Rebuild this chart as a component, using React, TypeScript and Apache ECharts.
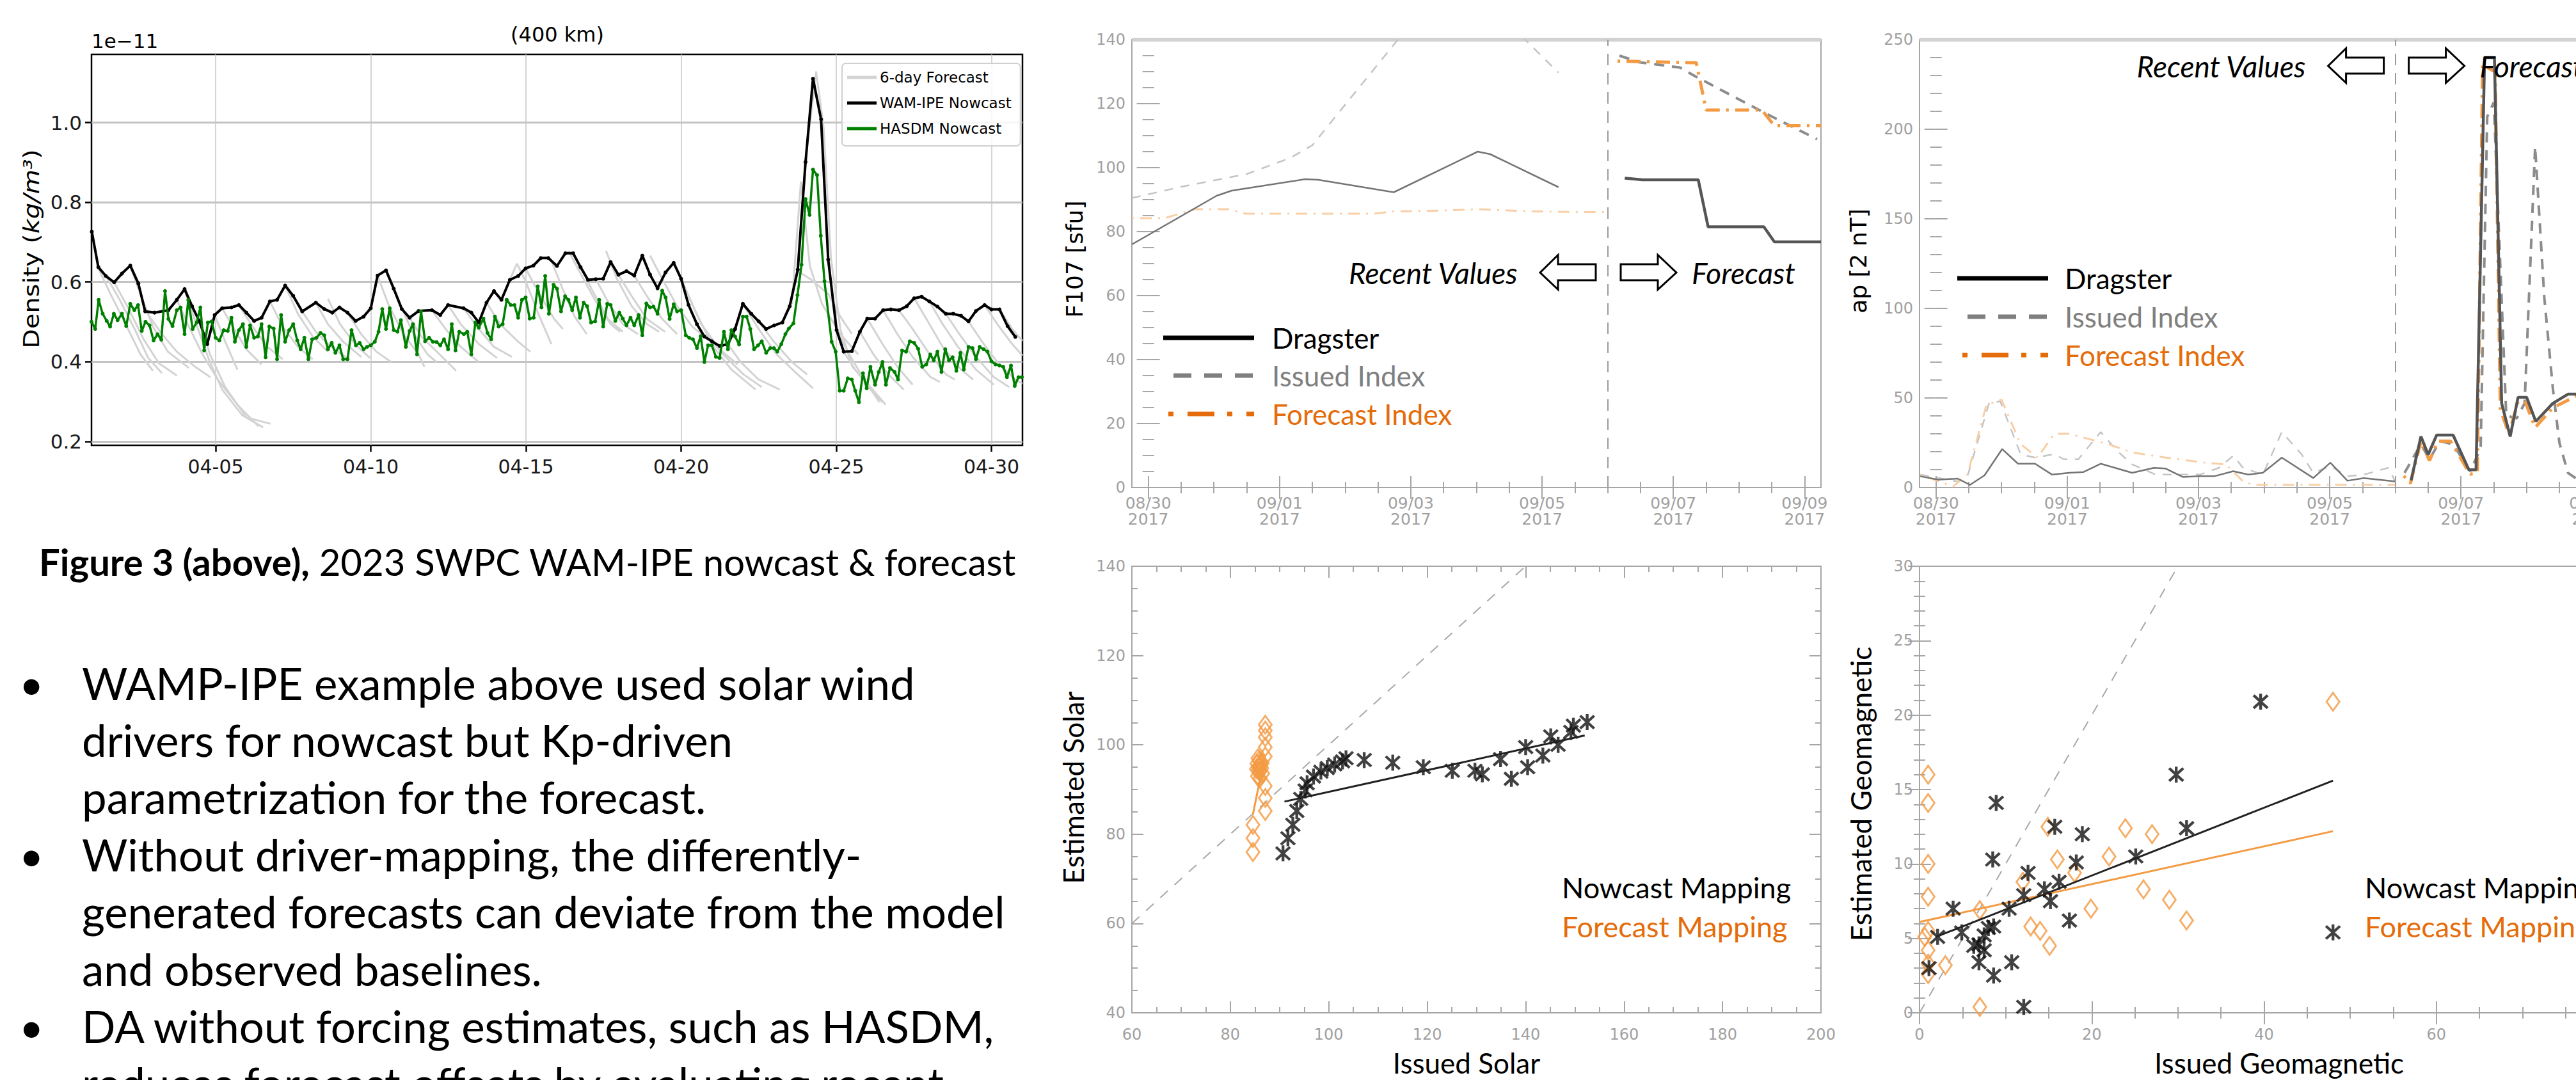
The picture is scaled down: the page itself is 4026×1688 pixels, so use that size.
import React, { useEffect, useRef } from "react";
import * as echarts from "echarts";

type P = [number, number];

// ================= Figure 3 (left): density at 400 km =================
// x = days since 2023-04-01 00 UT, y = density in 1e-11 kg/m^3
const densityTickDays = [4, 9, 14, 19, 24, 29];
const densityTickLabels = ["04-05", "04-10", "04-15", "04-20", "04-25", "04-30"];
const densityTickValues = [0.2, 0.4, 0.6, 0.8, 1.0];

const wamIpeNowcast: P[] = [
  [0.01, 0.726], [0.22, 0.637], [0.46, 0.615], [0.73, 0.599], [0.98, 0.621], [1.25, 0.641], [1.51, 0.596],
  [1.73, 0.526], [2.03, 0.523], [2.48, 0.529], [2.75, 0.555], [3.0, 0.582], [3.24, 0.539], [3.48, 0.501],
  [3.73, 0.444], [3.97, 0.517], [4.21, 0.534], [4.51, 0.536], [4.75, 0.542], [4.99, 0.523], [5.24, 0.502],
  [5.48, 0.51], [5.75, 0.551], [5.98, 0.555], [6.24, 0.591], [6.5, 0.565], [6.79, 0.526], [7.23, 0.548],
  [7.5, 0.532], [7.76, 0.523], [7.99, 0.536], [8.25, 0.523], [8.51, 0.502], [8.77, 0.513], [9.0, 0.534],
  [9.22, 0.616], [9.49, 0.629], [9.74, 0.583], [10.0, 0.532], [10.25, 0.51], [10.54, 0.527], [10.97, 0.529],
  [11.24, 0.517], [11.49, 0.542], [11.99, 0.534], [12.24, 0.523], [12.48, 0.498], [12.73, 0.548],
  [12.97, 0.577], [13.21, 0.555], [13.48, 0.605], [13.75, 0.615], [13.99, 0.634], [14.24, 0.641],
  [14.48, 0.66], [14.72, 0.66], [15.0, 0.64], [15.27, 0.672], [15.52, 0.672], [15.76, 0.637], [16.0, 0.605],
  [16.25, 0.607], [16.49, 0.608], [16.73, 0.65], [16.98, 0.618], [17.24, 0.627], [17.49, 0.616],
  [17.75, 0.666], [18.0, 0.618], [18.24, 0.584], [18.5, 0.624], [18.76, 0.648], [19.0, 0.608],
  [19.24, 0.542], [19.51, 0.494], [19.75, 0.463], [19.99, 0.451], [20.25, 0.439], [20.51, 0.444],
  [20.74, 0.482], [20.99, 0.545], [21.26, 0.52], [21.5, 0.501], [21.74, 0.482], [22.0, 0.491],
  [22.26, 0.498], [22.5, 0.539], [22.76, 0.631], [23.01, 0.901], [23.25, 1.11], [23.51, 1.008],
  [23.74, 0.656], [24.01, 0.479], [24.24, 0.425], [24.5, 0.426], [24.76, 0.475], [25.0, 0.508],
  [25.25, 0.508], [25.51, 0.529], [25.76, 0.531], [26.02, 0.529], [26.27, 0.539], [26.51, 0.559],
  [26.75, 0.563], [27.0, 0.551], [27.26, 0.538], [27.53, 0.52], [27.77, 0.52], [28.02, 0.515],
  [28.26, 0.501], [28.5, 0.527], [28.78, 0.542], [29.0, 0.531], [29.26, 0.531], [29.52, 0.489], [29.77, 0.462],
];

const hasdmNowcast: P[] = [
  [0.0, 0.5], [0.12, 0.482], [0.23, 0.555], [0.36, 0.52], [0.49, 0.502], [0.6, 0.488], [0.72, 0.52],
  [0.84, 0.504], [0.98, 0.52], [1.12, 0.489], [1.25, 0.545], [1.38, 0.529], [1.5, 0.542], [1.62, 0.477],
  [1.74, 0.5], [1.87, 0.491], [2.0, 0.453], [2.13, 0.469], [2.25, 0.455], [2.37, 0.577], [2.48, 0.507],
  [2.61, 0.489], [2.75, 0.529], [2.87, 0.536], [3.0, 0.469], [3.12, 0.555], [3.26, 0.482], [3.39, 0.498],
  [3.51, 0.536], [3.63, 0.428], [3.75, 0.498], [3.87, 0.501], [4.0, 0.46], [4.12, 0.453], [4.26, 0.479],
  [4.39, 0.477], [4.51, 0.51], [4.62, 0.45], [4.75, 0.479], [4.88, 0.494], [4.99, 0.437], [5.11, 0.491],
  [5.24, 0.46], [5.36, 0.463], [5.48, 0.494], [5.61, 0.411], [5.73, 0.488], [5.87, 0.483], [5.98, 0.406],
  [6.11, 0.517], [6.24, 0.45], [6.37, 0.479], [6.5, 0.494], [6.63, 0.453], [6.74, 0.431], [6.86, 0.46],
  [6.99, 0.406], [7.11, 0.456], [7.25, 0.46], [7.38, 0.472], [7.5, 0.466], [7.62, 0.431], [7.74, 0.447],
  [7.86, 0.422], [7.99, 0.441], [8.11, 0.406], [8.25, 0.406], [8.38, 0.479], [8.52, 0.441], [8.64, 0.447],
  [8.77, 0.431], [8.88, 0.437], [9.0, 0.441], [9.13, 0.45], [9.25, 0.475], [9.37, 0.532], [9.49, 0.482],
  [9.61, 0.534], [9.74, 0.479], [9.86, 0.475], [9.97, 0.504], [10.13, 0.437], [10.25, 0.477], [10.36, 0.494],
  [10.49, 0.418], [10.62, 0.526], [10.75, 0.451], [10.88, 0.46], [11.0, 0.45], [11.12, 0.449], [11.24, 0.441],
  [11.36, 0.456], [11.49, 0.431], [11.61, 0.494], [11.73, 0.428], [11.85, 0.475], [12.0, 0.469], [12.11, 0.475],
  [12.24, 0.418], [12.37, 0.498], [12.48, 0.485], [12.63, 0.508], [12.76, 0.472], [12.88, 0.456], [13.0, 0.513],
  [13.12, 0.488], [13.25, 0.494], [13.38, 0.555], [13.51, 0.542], [13.63, 0.542], [13.75, 0.51], [13.87, 0.555],
  [13.99, 0.561], [14.12, 0.508], [14.25, 0.51], [14.38, 0.589], [14.5, 0.536], [14.62, 0.615], [14.74, 0.52],
  [14.89, 0.593], [15.0, 0.583], [15.13, 0.526], [15.26, 0.564], [15.37, 0.555], [15.49, 0.529], [15.61, 0.561],
  [15.74, 0.51], [15.86, 0.548], [15.97, 0.539], [16.1, 0.498], [16.23, 0.501], [16.36, 0.555], [16.49, 0.488],
  [16.62, 0.545], [16.73, 0.542], [16.88, 0.502], [17.01, 0.523], [17.12, 0.508], [17.24, 0.491], [17.37, 0.51],
  [17.49, 0.491], [17.63, 0.517], [17.75, 0.466], [17.88, 0.546], [18.0, 0.536], [18.11, 0.538], [18.24, 0.52],
  [18.39, 0.578], [18.5, 0.561], [18.63, 0.507], [18.76, 0.544], [18.87, 0.526], [19.0, 0.529], [19.15, 0.466],
  [19.26, 0.46], [19.38, 0.456], [19.51, 0.434], [19.63, 0.464], [19.75, 0.399], [19.87, 0.441], [19.99, 0.441],
  [20.12, 0.412], [20.24, 0.409], [20.38, 0.475], [20.51, 0.431], [20.62, 0.479], [20.74, 0.463], [20.87, 0.443],
  [20.99, 0.513], [21.11, 0.513], [21.23, 0.482], [21.35, 0.431], [21.48, 0.441], [21.6, 0.451], [21.74, 0.422],
  [21.87, 0.434], [21.99, 0.434], [22.1, 0.425], [22.23, 0.444], [22.36, 0.469], [22.47, 0.483], [22.62, 0.496],
  [22.75, 0.567], [22.88, 0.643], [23.01, 0.808], [23.14, 0.768], [23.25, 0.882], [23.38, 0.868], [23.5, 0.716],
  [23.62, 0.602], [23.85, 0.45], [23.98, 0.425], [24.11, 0.327], [24.24, 0.327], [24.37, 0.358], [24.5, 0.355],
  [24.61, 0.327], [24.73, 0.298], [24.86, 0.371], [24.98, 0.333], [25.1, 0.387], [25.25, 0.342], [25.37, 0.374],
  [25.49, 0.399], [25.6, 0.342], [25.73, 0.384], [25.88, 0.374], [25.99, 0.355], [26.12, 0.428], [26.25, 0.425],
  [26.37, 0.451], [26.51, 0.447], [26.64, 0.432], [26.77, 0.387], [26.9, 0.393], [27.03, 0.418], [27.14, 0.403],
  [27.26, 0.425], [27.39, 0.374], [27.51, 0.431], [27.63, 0.403], [27.75, 0.411], [27.87, 0.377], [28.0, 0.422],
  [28.11, 0.38], [28.26, 0.437], [28.39, 0.434], [28.5, 0.406], [28.62, 0.437], [28.75, 0.431], [28.87, 0.425],
  [29.0, 0.401], [29.13, 0.393], [29.26, 0.39], [29.38, 0.387], [29.5, 0.361], [29.63, 0.39], [29.75, 0.339],
  [29.87, 0.361], [29.98, 0.361],
];

const sixDayForecasts: P[][] = [
  [[0.22, 0.634], [0.61, 0.57], [1.1, 0.494], [1.58, 0.418], [1.98, 0.377]],
  [[0.47, 0.615], [0.91, 0.555], [1.39, 0.482], [1.83, 0.409], [2.27, 0.371]],
  [[0.73, 0.599], [1.2, 0.532], [1.68, 0.456], [2.17, 0.396], [2.75, 0.365]],
  [[1.25, 0.64], [1.54, 0.577], [1.98, 0.488], [2.46, 0.425], [3.14, 0.384]],
  [[1.78, 0.523], [2.27, 0.469], [2.75, 0.425], [3.34, 0.387], [3.83, 0.361]],
  [[2.75, 0.555], [3.1, 0.494], [3.58, 0.418], [4.07, 0.355], [4.7, 0.292], [5.38, 0.238]],
  [[3.0, 0.58], [3.29, 0.513], [3.78, 0.406], [4.21, 0.33], [4.85, 0.266], [5.53, 0.235]],
  [[3.48, 0.501], [3.82, 0.418], [4.31, 0.336], [4.99, 0.26], [5.77, 0.244]],
  [[3.97, 0.517], [4.31, 0.45], [4.7, 0.38]],
  [[4.21, 0.534], [4.6, 0.482], [4.99, 0.431], [5.48, 0.393]],
  [[4.75, 0.542], [5.19, 0.488], [5.67, 0.437], [6.16, 0.406]],
  [[5.75, 0.551], [6.16, 0.488], [6.65, 0.437], [7.13, 0.406]],
  [[6.24, 0.591], [6.65, 0.52], [7.13, 0.463], [7.62, 0.425]],
  [[6.79, 0.526], [7.23, 0.475], [7.72, 0.437], [8.3, 0.406]],
  [[7.23, 0.548], [7.62, 0.494], [8.11, 0.45], [8.69, 0.412]],
  [[7.62, 0.558], [8.01, 0.494], [8.49, 0.444], [8.98, 0.409]],
  [[8.25, 0.523], [8.69, 0.469], [9.18, 0.425], [9.66, 0.399]],
  [[9.22, 0.616], [9.56, 0.545], [10.05, 0.469], [10.54, 0.418], [10.73, 0.387]],
  [[9.49, 0.629], [9.86, 0.558], [10.34, 0.475], [10.83, 0.418], [11.12, 0.399]],
  [[10.25, 0.51], [10.63, 0.463], [11.22, 0.418], [11.75, 0.377]],
  [[10.97, 0.529], [11.41, 0.482], [11.9, 0.437], [12.48, 0.399]],
  [[11.49, 0.542], [11.9, 0.494], [12.48, 0.444], [13.07, 0.409]],
  [[11.99, 0.534], [12.48, 0.482], [12.97, 0.437], [13.55, 0.412]],
  [[12.73, 0.548], [13.17, 0.494], [13.75, 0.45], [14.14, 0.425]],
  [[13.48, 0.605], [13.71, 0.646], [14.0, 0.6], [14.4, 0.52], [14.82, 0.444]],
  [[13.99, 0.634], [14.43, 0.57], [14.91, 0.507], [15.19, 0.482]],
  [[14.79, 0.659], [15.18, 0.583], [15.57, 0.513], [15.96, 0.469]],
  [[15.37, 0.678], [15.76, 0.621], [16.25, 0.551], [16.73, 0.494], [17.03, 0.475]],
  [[15.76, 0.637], [16.15, 0.577], [16.64, 0.507], [17.12, 0.475]],
  [[16.25, 0.607], [16.64, 0.551], [17.12, 0.494], [17.61, 0.469]],
  [[16.58, 0.678], [16.93, 0.608], [17.41, 0.539], [17.9, 0.494], [18.29, 0.475]],
  [[16.98, 0.618], [17.41, 0.564], [17.9, 0.507], [18.48, 0.475]],
  [[17.49, 0.616], [17.9, 0.564], [18.39, 0.507], [18.87, 0.469]],
  [[18.0, 0.666], [18.39, 0.608], [18.87, 0.539], [19.36, 0.488], [19.85, 0.456]],
  [[18.76, 0.648], [19.17, 0.577], [19.65, 0.494], [20.24, 0.431], [20.82, 0.393]],
  [[19.0, 0.608], [19.46, 0.526], [20.04, 0.437], [20.62, 0.38], [21.4, 0.33]],
  [[19.99, 0.451], [20.43, 0.412], [21.01, 0.368], [21.6, 0.336]],
  [[20.51, 0.444], [20.92, 0.399], [21.5, 0.355], [22.18, 0.33]],
  [[20.99, 0.545], [21.5, 0.482], [22.08, 0.418], [22.67, 0.374], [23.25, 0.333]],
  [[21.5, 0.501], [21.99, 0.45], [22.57, 0.399], [23.06, 0.368]],
  [[22.76, 0.627], [23.15, 0.608], [23.74, 0.57], [24.13, 0.513], [24.5, 0.47]],
  [[22.57, 0.545], [22.86, 0.852], [23.15, 0.64], [23.54, 0.545], [24.13, 0.469], [24.71, 0.418]],
  [[23.01, 0.906], [23.35, 1.128], [23.59, 0.989], [23.83, 0.659], [24.13, 0.482], [24.52, 0.387], [25.1, 0.336], [25.59, 0.292]],
  [[24.01, 0.479], [24.42, 0.418], [24.9, 0.355], [25.39, 0.298]],
  [[24.24, 0.425], [24.61, 0.38], [25.1, 0.33], [25.49, 0.298]],
  [[24.76, 0.475], [25.2, 0.418], [25.68, 0.368], [26.17, 0.33]],
  [[25.0, 0.508], [25.49, 0.444], [25.97, 0.387], [26.46, 0.342]],
  [[25.51, 0.529], [25.97, 0.469], [26.46, 0.412], [27.04, 0.361], [27.34, 0.349]],
  [[26.02, 0.529], [26.46, 0.482], [26.95, 0.425], [27.53, 0.368], [27.82, 0.355]],
  [[26.51, 0.559], [26.95, 0.501], [27.43, 0.437], [28.02, 0.38], [28.41, 0.355]],
  [[27.0, 0.551], [27.43, 0.494], [27.92, 0.437], [28.5, 0.38], [29.08, 0.342]],
  [[27.53, 0.52], [28.02, 0.463], [28.5, 0.412], [29.08, 0.361], [29.57, 0.336]],
  [[28.26, 0.501], [28.7, 0.45], [29.19, 0.399], [29.77, 0.355], [30.0, 0.345]],
  [[28.78, 0.542], [29.19, 0.494], [29.67, 0.444], [30.0, 0.415]],
  [[29.26, 0.531], [29.67, 0.482], [30.0, 0.452]],
];

// ================= Driver panels (x = days since 2017-08-30 00 UT) =================
const dateTickDays = [0, 2, 4, 6, 8, 10];
const dateTickLabels = ["08/30\n2017", "09/01\n2017", "09/03\n2017", "09/05\n2017", "09/07\n2017", "09/09\n2017"];
const dateMinorDays = [0.5, 1, 1.5, 2.5, 3, 3.5, 4.5, 5, 5.5, 6.5, 7, 7.5, 8.5, 9, 9.5];
const forecastStartDay = 7;

// F10.7 panel
const f107Ticks = [0, 20, 40, 60, 80, 100, 120, 140];
const f107Minor = [5, 10, 15, 25, 30, 35, 45, 50, 55, 65, 70, 75, 85, 90, 95, 105, 110, 115, 125, 130, 135];
const f107DragsterRecent: P[] = [[-0.25, 76], [1.04, 91.2], [1.27, 92.8], [2.39, 96.4], [2.59, 96.2], [3.74, 92.3], [5.02, 105], [5.21, 104.2], [6.25, 93.9]];
const f107DragsterForecast: P[] = [[7.26, 96.7], [7.53, 96.2], [8.38, 96.2], [8.53, 81.5], [9.38, 81.5], [9.54, 76.8], [10.25, 76.8]];
const f107IssuedRecent: P[] = [[-0.25, 90.5], [0.5, 94], [1.5, 98], [2.16, 103], [2.5, 107], [4.0, 145], [5.0, 155], [6.25, 129.7]];
const f107IssuedForecast: P[] = [[7.18, 135], [7.49, 132.9], [8.1, 131.3], [8.33, 128.6], [9.41, 116.9], [10.19, 108.9]];
const f107ForecastIdxRecent: P[] = [[-0.25, 84.2], [0.25, 84.2], [0.71, 87], [1.22, 87], [1.49, 85.6], [3.42, 85.6], [3.73, 86.3], [4.5, 86.6], [5.04, 87], [5.73, 86.4], [6.5, 86.1], [7.0, 86.1]];
const f107ForecastIdxForecast: P[] = [[7.15, 133.3], [8.35, 132.8], [8.5, 118], [9.35, 118], [9.54, 113.1], [10.25, 113.1]];

// ap panel
const apTicks = [0, 50, 100, 150, 200, 250];
const apMinor = [10, 20, 30, 40, 60, 70, 80, 90, 110, 120, 130, 140, 160, 170, 180, 190, 210, 220, 230, 240];
const apDragsterRecent: P[] = [
  [-0.24, 6.3], [0.04, 4.4], [0.33, 5], [0.52, 1.5], [0.74, 6.8], [1.01, 21.5], [1.25, 13.3], [1.51, 13.3],
  [1.77, 7.2], [2.03, 8.2], [2.25, 8.7], [2.51, 13.3], [2.73, 11], [2.99, 8.2], [3.32, 11], [3.5, 10.6],
  [3.76, 5.9], [4.02, 6.3], [4.24, 6.3], [4.53, 9.1], [4.76, 7.2], [4.98, 8.2], [5.27, 16.7], [5.75, 5.3],
  [6.01, 13.9], [6.27, 3.8], [6.52, 5.3], [7.0, 3.4],
];
const apDragsterForecast: P[] = [
  [7.24, 4.0], [7.39, 28.5], [7.5, 18.4], [7.63, 29.3], [7.88, 29.3], [8.12, 9.9], [8.23, 9.9], [8.36, 240],
  [8.51, 240], [8.62, 47], [8.75, 28.5], [8.87, 50.4], [9.0, 50.4], [9.14, 36.9], [9.4, 47], [9.63, 52.1], [9.76, 52.1],
];
const apIssuedRecent: P[] = [
  [-0.24, 7.2], [0.33, 3.4], [0.48, 6.3], [0.81, 47.1], [0.98, 48.1], [1.29, 18.6], [1.51, 16.7], [1.8, 18.6],
  [1.95, 15.8], [2.17, 15.8], [2.51, 31], [2.76, 20.5], [2.99, 12.9], [3.35, 7.2], [4.02, 7.2], [4.31, 11],
  [4.53, 17.7], [4.68, 11], [4.98, 7.2], [5.27, 31], [5.57, 18.6], [5.75, 8.2], [6.01, 12], [6.27, 6.3],
  [6.52, 7.2], [6.89, 11], [7.0, 3.4],
];
const apIssuedForecast: P[] = [
  [7.14, 8.2], [7.39, 24.2], [7.52, 15.8], [7.68, 25.9], [7.88, 24.2], [8.14, 9.1], [8.3, 21.7], [8.4, 207],
  [8.5, 215], [8.69, 40.2], [8.85, 38.6], [8.97, 47], [9.13, 190.3], [9.27, 106], [9.4, 55.4], [9.5, 25],
  [9.63, 8.2], [9.76, 4.9],
];
const apForecastIdxRecent: P[] = [
  [-0.24, 7.2], [0.26, 0.6], [0.48, 7.2], [0.77, 46.2], [1.0, 49], [1.29, 24.3], [1.55, 16.7], [1.8, 30],
  [2.03, 30], [2.62, 24.3], [2.99, 19.6], [3.5, 16.7], [4.09, 13.9], [4.42, 12.9], [4.68, 3.4], [4.83, 1.5], [7.0, 1.5],
];
const apForecastIdxForecast: P[] = [
  [7.13, 6.5], [7.23, 2.3], [7.39, 25.9], [7.52, 15], [7.65, 25.9], [7.84, 25.9], [8.14, 7.4], [8.25, 8.2],
  [8.33, 236], [8.52, 232], [8.6, 43.6], [8.73, 30.1], [8.87, 47.9], [8.98, 47.9], [9.13, 33.5], [9.4, 44.5], [9.76, 51.2],
];

// Solar mapping panel
const solarXTicks = [60, 80, 100, 120, 140, 160, 180, 200];
const solarXMinor = [65, 70, 75, 85, 90, 95, 105, 110, 115, 125, 130, 135, 145, 150, 155, 165, 170, 175, 185, 190, 195];
const solarYTicks = [40, 60, 80, 100, 120, 140];
const solarYMinor = [45, 50, 55, 65, 70, 75, 85, 90, 95, 105, 110, 115, 125, 130, 135];
const solarIdentity: P[] = [[60, 60], [140, 140]];
const solarNowcastPoints: P[] = [
  [90.7, 75.7], [91.7, 79.1], [92.7, 82.1], [93.5, 85.2], [94.3, 87.9], [95.2, 89.8], [95.6, 91.4], [96.9, 92.9],
  [98.4, 94], [99.7, 94.8], [101.2, 95.6], [102.8, 96.3], [103.5, 97], [107.2, 96.6], [113, 96], [119.2, 95],
  [125.1, 94.2], [129.7, 94.2], [131.2, 93.4], [134.9, 96.8], [137.1, 92.4], [140, 99.5], [140.4, 95],
  [143.5, 97.6], [145.1, 101.9], [146.6, 100], [149.2, 102.9], [149.7, 104.3], [152.5, 105.1],
];
const solarNowcastFit: P[] = [[91, 87.3], [152, 102.1]];
const solarForecastPoints: P[] = [
  [84.6, 76], [84.6, 79.1], [84.6, 82.1], [87.1, 85.2], [87.1, 88.1], [87.1, 90.8], [85.5, 93], [86, 94],
  [85.8, 95], [86.2, 96], [85.6, 97], [86, 92.5], [86.4, 94.8], [85.4, 95.8], [86.6, 93.6], [85.9, 96.5],
  [85.7, 94.3], [86.1, 95.4], [85.3, 94.6], [86.5, 95.9],
  [87.1, 97.4], [87.1, 99.5], [87.1, 101.7], [87.1, 103.2], [87.1, 104.5],
];
const solarForecastFit: P[] = [[84.6, 84.5], [87.0, 97.5]];

// Geomagnetic mapping panel
const geoXTicks = [0, 20, 40, 60, 80];
const geoXMinor = [5, 10, 15, 25, 30, 35, 45, 50, 55, 65, 70, 75];
const geoYTicks = [0, 5, 10, 15, 20, 25, 30];
const geoYMinor = [1, 2, 3, 4, 6, 7, 8, 9, 11, 12, 13, 14, 16, 17, 18, 19, 21, 22, 23, 24, 26, 27, 28, 29];
const geoIdentity: P[] = [[0, 0], [30, 30]];
const geoNowcastPoints: P[] = [
  [39.6, 20.9], [29.8, 16], [8.9, 14.1], [15.7, 12.5], [18.9, 12], [31, 12.4], [8.5, 10.3], [18.2, 10.1],
  [25.1, 10.5], [12.6, 9.4], [16.2, 8.8], [14.5, 8.3], [12.1, 7.9], [15.2, 7.5], [10.4, 7], [3.9, 7],
  [17.4, 6.2], [4.9, 5.4], [2.1, 5.1], [8.6, 5.8], [7.5, 5.2], [6.9, 4.6], [7.5, 4.2], [6.3, 4.5],
  [6.9, 3.4], [10.7, 3.4], [8.6, 2.5], [1.1, 3], [12.1, 0.4], [48, 5.4], [8, 5.7],
];
const geoNowcastFit: P[] = [[1.9, 5.1], [48, 15.6]];
const geoForecastPoints: P[] = [
  [48, 20.9], [1, 16], [1, 14.1], [1, 10], [1, 7.8], [1, 5.5], [0.6, 5.1], [1, 4.2], [1, 3.3], [1, 2.6],
  [3, 3.2], [7, 0.4], [7, 6.9], [12, 8.8], [12.9, 5.8], [14, 5.5], [15.1, 4.5], [14.9, 12.5], [16, 10.3],
  [18, 9.4], [19.9, 7], [22, 10.5], [23.9, 12.4], [27, 12], [26, 8.3], [29, 7.6], [31, 6.2],
];
const geoForecastFit: P[] = [[0, 6.1], [48, 12.2]];

// ================= Slide text =================
const captionBold = "Figure 3 (above),";
const captionRest = " 2023 SWPC WAM-IPE nowcast & forecast";
const bulletLines = [
  { bullet: true, text: "WAMP-IPE example above used solar wind" },
  { bullet: false, text: "drivers for nowcast but Kp-driven" },
  { bullet: false, text: "parametrization for the forecast." },
  { bullet: true, text: "Without driver-mapping, the differently-" },
  { bullet: false, text: "generated forecasts can deviate from the model" },
  { bullet: false, text: "and observed baselines." },
  { bullet: true, text: "DA without forcing estimates, such as HASDM," },
  { bullet: false, text: "reduces forecast offsets by evaluating recent" },
];

// ================= styling constants =================
const MPL = '"DejaVu Sans", Verdana, sans-serif';
const SLIDE = 'Lato, "Open Sans", "Noto Sans", sans-serif';
const IDL_FONT = '"DejaVu Sans", sans-serif';
const IDL_GRAY = "#A6A6A6";
const IDL_TEXT = "#A0A0A0";
const ORANGE_TEXT = "#E46C0A";
const ORANGE = "#F39A42";
const ORANGE_LIGHT = "#F8CFA6";
const ASTERISK =
  "path://M42,0L58,0L58,100L42,100Z M15.66,4.34L95.66,84.34L84.34,95.66L4.34,15.66Z M95.66,15.66L15.66,95.66L4.34,84.34L84.34,4.34Z";

function buildOption() {
  const gridBase = { show: true, outerBoundsMode: "none", containLabel: false };
  const grids: any[] = [
    { ...gridBase, left: 143, top: 85, width: 1455, height: 611, borderColor: "#000", borderWidth: 2.5, backgroundColor: "transparent" },
    { ...gridBase, left: 1769, top: 62, width: 1077, height: 700, borderColor: IDL_GRAY, borderWidth: 2 },
    { ...gridBase, left: 3000, top: 62, width: 1077, height: 700, borderColor: IDL_GRAY, borderWidth: 2 },
    { ...gridBase, left: 1769, top: 885, width: 1077, height: 698, borderColor: IDL_GRAY, borderWidth: 2 },
    { ...gridBase, left: 3000, top: 885, width: 1077, height: 698, borderColor: IDL_GRAY, borderWidth: 2 },
  ];

  const xAxes: any[] = [];
  const yAxes: any[] = [];

  // left density chart axes
  xAxes.push({
    type: "value", gridIndex: 0, min: 0, max: 30, position: "bottom",
    axisLine: { show: false },
    axisTick: { show: true, inside: false, length: 10, customValues: densityTickDays, lineStyle: { color: "#000", width: 2.5 } },
    axisLabel: {
      show: true, customValues: densityTickDays, margin: 18, fontSize: 30, fontFamily: MPL, color: "#1a1a1a",
      formatter: (v: number) => densityTickLabels[densityTickDays.indexOf(v)] ?? "",
    },
    splitLine: { show: true, lineStyle: { color: "#C6C6C6", width: 1.5 } },
  });
  yAxes.push({
    type: "value", gridIndex: 0, min: 0.19, max: 1.171, position: "left",
    axisLine: { show: false },
    axisTick: { show: true, inside: false, length: 10, customValues: densityTickValues, lineStyle: { color: "#000", width: 2.5 } },
    axisLabel: {
      show: true, customValues: densityTickValues, margin: 15, fontSize: 31, fontFamily: MPL, color: "#1a1a1a",
      formatter: (v: number) => v.toFixed(1),
    },
    splitLine: { show: true, lineStyle: { color: "#C2C2C2", width: 3 } },
  });

  const tickStyle = { color: IDL_GRAY, width: 2 };
  function addIdl(list: any[], grid: number, pos: [string, string], min: number, max: number, majors: number[], minors: number[], label: any) {
    const idx = list.length;
    list.push({
      type: "value", gridIndex: grid, position: pos[0], min, max,
      axisLine: { show: false },
      axisTick: { show: true, inside: true, length: 18, customValues: majors, lineStyle: tickStyle },
      axisLabel: { show: true, customValues: majors, color: IDL_TEXT, fontFamily: IDL_FONT, ...label },
      splitLine: { show: false },
    });
    list.push({
      type: "value", gridIndex: grid, position: pos[0], min, max,
      axisLine: { show: false },
      axisTick: { show: true, inside: true, length: 9, customValues: minors, lineStyle: tickStyle },
      axisLabel: { show: false }, splitLine: { show: false },
    });
    list.push({
      type: "value", gridIndex: grid, position: pos[1], min, max,
      axisLine: { show: false },
      axisTick: { show: true, inside: true, length: 18, customValues: majors, lineStyle: tickStyle },
      axisLabel: { show: false }, splitLine: { show: false },
    });
    list.push({
      type: "value", gridIndex: grid, position: pos[1], min, max,
      axisLine: { show: false },
      axisTick: { show: true, inside: true, length: 9, customValues: minors, lineStyle: tickStyle },
      axisLabel: { show: false }, splitLine: { show: false },
    });
    return idx;
  }
  const dateLabel = {
    fontSize: 25, lineHeight: 25, margin: 12,
    formatter: (v: number) => dateTickLabels[dateTickDays.indexOf(v)] ?? "",
  };
  const numLabel = (m: number) => ({ fontSize: 24, margin: m, formatter: (v: number) => String(v) });

  const axA = addIdl(xAxes, 1, ["bottom", "top"], -0.25, 10.25, dateTickDays, dateMinorDays, dateLabel);
  const ayA = addIdl(yAxes, 1, ["left", "right"], 0, 140, f107Ticks, f107Minor, numLabel(10));
  const axB = addIdl(xAxes, 2, ["bottom", "top"], -0.25, 10.25, dateTickDays, dateMinorDays, dateLabel);
  const ayB = addIdl(yAxes, 2, ["left", "right"], 0, 250, apTicks, apMinor, numLabel(10));
  const axC = addIdl(xAxes, 3, ["bottom", "top"], 60, 200, solarXTicks, solarXMinor, numLabel(22));
  const ayC = addIdl(yAxes, 3, ["left", "right"], 40, 140, solarYTicks, solarYMinor, numLabel(10));
  const axD = addIdl(xAxes, 4, ["bottom", "top"], 0, 80, geoXTicks, geoXMinor, numLabel(22));
  const ayD = addIdl(yAxes, 4, ["left", "right"], 0, 30, geoYTicks, geoYMinor, numLabel(10));

  const series: any[] = [];
  // ---- density chart
  sixDayForecasts.forEach((run) => {
    series.push({
      type: "line", name: "6-day Forecast", xAxisIndex: 0, yAxisIndex: 0, data: run, showSymbol: false,
      lineStyle: { color: "#D3D3D3", width: 3 }, itemStyle: { color: "#D3D3D3" }, z: 2, silent: true,
    });
  });
  series.push({
    type: "line", name: "WAM-IPE Nowcast", xAxisIndex: 0, yAxisIndex: 0, data: wamIpeNowcast,
    symbol: "circle", symbolSize: 6, showSymbol: true,
    lineStyle: { color: "#000", width: 4 }, itemStyle: { color: "#000" }, z: 3, silent: true,
  });
  series.push({
    type: "line", name: "HASDM Nowcast", xAxisIndex: 0, yAxisIndex: 0, data: hasdmNowcast,
    symbol: "circle", symbolSize: 6, showSymbol: true,
    lineStyle: { color: "#008000", width: 3.5 }, itemStyle: { color: "#008000" }, z: 4, silent: true,
  });

  // ---- driver panels
  const driverSeries = (xi: number, yi: number, d: any) => {
    const mk = (name: string, data: P[], color: string, width: number, type: any, extra: any = {}) => ({
      type: "line", name, xAxisIndex: xi, yAxisIndex: yi, data, showSymbol: false, silent: true,
      lineStyle: { color, width, type }, itemStyle: { color }, ...extra,
    });
    series.push(mk("Issued Index recent", d.issuedRecent, "#C4C4C4", 2.5, [14, 12]));
    series.push(mk("Forecast Index recent", d.fiRecent, ORANGE_LIGHT, 3, [3, 10, 18, 10]));
    series.push(mk("Dragster recent", d.dragRecent, "#747474", 2.5, "solid", {
      markLine: {
        silent: true, symbol: ["none", "none"], label: { show: false },
        lineStyle: { color: "#9A9A9A", type: [18, 12], width: 2 },
        data: [{ xAxis: forecastStartDay }],
      },
    }));
    series.push(mk("Issued Index forecast", d.issuedForecast, "#8C8C8C", 4, [16, 12]));
    series.push(mk("Forecast Index forecast", d.fiForecast, ORANGE, 5, [4, 10, 22, 10]));
    series.push(mk("Dragster forecast", d.dragForecast, "#555555", 4.5, "solid"));
  };
  driverSeries(axA, ayA, {
    issuedRecent: f107IssuedRecent, fiRecent: f107ForecastIdxRecent, dragRecent: f107DragsterRecent,
    issuedForecast: f107IssuedForecast, fiForecast: f107ForecastIdxForecast, dragForecast: f107DragsterForecast,
  });
  driverSeries(axB, ayB, {
    issuedRecent: apIssuedRecent, fiRecent: apForecastIdxRecent, dragRecent: apDragsterRecent,
    issuedForecast: apIssuedForecast, fiForecast: apForecastIdxForecast, dragForecast: apDragsterForecast,
  });

  // ---- mapping panels
  const mappingSeries = (xi: number, yi: number, identity: P[], nowPts: P[], nowFit: P[], fcPts: P[], fcFit: P[]) => {
    series.push({
      type: "line", name: "identity", xAxisIndex: xi, yAxisIndex: yi, data: identity, showSymbol: false, silent: true,
      lineStyle: { color: "#A8A8A8", width: 2, type: [16, 14] },
    });
    series.push({
      type: "scatter", name: "Forecast Mapping", xAxisIndex: xi, yAxisIndex: yi, data: fcPts, silent: true,
      symbol: "diamond", symbolSize: [20, 28],
      itemStyle: { color: "rgba(255,255,255,0)", borderColor: ORANGE, borderWidth: 3 }, z: 3,
    });
    series.push({
      type: "line", name: "Forecast fit", xAxisIndex: xi, yAxisIndex: yi, data: fcFit, showSymbol: false, silent: true,
      lineStyle: { color: ORANGE, width: 3 }, z: 4,
    });
    series.push({
      type: "scatter", name: "Nowcast Mapping", xAxisIndex: xi, yAxisIndex: yi, data: nowPts, silent: true,
      symbol: ASTERISK, symbolSize: 25, itemStyle: { color: "#111" }, z: 5,
    });
    series.push({
      type: "line", name: "Nowcast fit", xAxisIndex: xi, yAxisIndex: yi, data: nowFit, showSymbol: false, silent: true,
      lineStyle: { color: "#222", width: 3 }, z: 6,
    });
  };
  mappingSeries(axC, ayC, solarIdentity, solarNowcastPoints, solarNowcastFit, solarForecastPoints, solarForecastFit);
  mappingSeries(axD, ayD, geoIdentity, geoNowcastPoints, geoNowcastFit, geoForecastPoints, geoForecastFit);

  // ---- graphic overlay
  const g: any[] = [];
  const text = (x: number, y: number, t: string, s: any, extra: any = {}) =>
    g.push({ type: "text", x, y, z: 100, silent: true, ...extra, style: { text: t, fill: "#000", align: "left", verticalAlign: "middle", ...s } });

  // heavier light-gray top frame of the two driver panels
  g.push({ type: "line", z: 1, silent: true, shape: { x1: 1769, y1: 62, x2: 2846, y2: 62 }, style: { stroke: "#D2D2D2", lineWidth: 6 } });
  g.push({ type: "line", z: 1, silent: true, shape: { x1: 3000, y1: 62, x2: 4026, y2: 62 }, style: { stroke: "#D2D2D2", lineWidth: 6 } });

  // density chart texts
  text(871, 54, "(400 km)", { fontFamily: MPL, fontSize: 32, align: "center" });
  text(143, 64, "1e\u221211", { fontFamily: MPL, fontSize: 31 });
  g.push({
    type: "text", x: 50, y: 389, rotation: Math.PI / 2, scaleX: 1.17, z: 100, silent: true,
    style: {
      text: "{n|Density (}{i|kg/m³}{n|)}", align: "center", verticalAlign: "middle", fill: "#000",
      rich: {
        n: { fontFamily: MPL, fontSize: 34, fill: "#000" },
        i: { fontFamily: MPL, fontSize: 34, fontStyle: "italic", fill: "#000" },
      },
    },
  });

  // caption and bullets
  g.push({
    type: "text", x: 61, y: 877, z: 100, silent: true,
    style: {
      text: "{b|" + captionBold + "}{r|" + captionRest + "}", align: "left", verticalAlign: "middle",
      rich: {
        b: { fontFamily: SLIDE, fontSize: 58, fontWeight: "bold", fill: "#000" },
        r: { fontFamily: SLIDE, fontSize: 58, fill: "#000" },
      },
    },
  });
  bulletLines.forEach((ln, i) => {
    const y = 1067 + i * 89.4;
    if (ln.bullet) text(30, y, "\u2022", { fontFamily: SLIDE, fontSize: 66 });
    text(128, y, ln.text, { fontFamily: SLIDE, fontSize: 69 });
  });

  // driver panels: annotations
  const leftArrow = (tx: number, cy: number) => [[tx, cy], [tx + 28, cy - 27.5], [tx + 28, cy - 13], [tx + 87, cy - 13], [tx + 87, cy + 12], [tx + 28, cy + 12], [tx + 28, cy + 26.5]];
  const rightArrow = (sx: number, cy: number) => [[sx, cy - 13], [sx + 58, cy - 13], [sx + 58, cy - 27.5], [sx + 87, cy], [sx + 58, cy + 26.5], [sx + 58, cy + 12], [sx, cy + 12]];
  const annot = (dx: number, cy: number) => {
    text(2108 + dx, cy, "Recent Values", { fontFamily: SLIDE, fontSize: 46, fontStyle: "italic" });
    text(2644 + dx, cy, "Forecast", { fontFamily: SLIDE, fontSize: 46, fontStyle: "italic" });
    g.push({ type: "polygon", z: 100, silent: true, shape: { points: leftArrow(2407 + dx, cy) }, style: { fill: "#fff", stroke: "#000", lineWidth: 3 } });
    g.push({ type: "polygon", z: 100, silent: true, shape: { points: rightArrow(2533 + dx, cy) }, style: { fill: "#fff", stroke: "#000", lineWidth: 3 } });
  };
  annot(0, 426);
  annot(1231.6, 103);

  const legendBlock = (lx0: number, lx1: number, tx: number, rows: number[]) => {
    g.push({ type: "line", z: 100, silent: true, shape: { x1: lx0, y1: rows[0], x2: lx1, y2: rows[0] }, style: { stroke: "#000", lineWidth: 7 } });
    g.push({ type: "line", z: 100, silent: true, shape: { x1: lx0 + 16, y1: rows[1], x2: lx1, y2: rows[1] }, style: { stroke: "#7F7F7F", lineWidth: 7, lineDash: [28, 20] } });
    g.push({ type: "line", z: 100, silent: true, shape: { x1: lx0 + 8, y1: rows[2], x2: lx1, y2: rows[2] }, style: { stroke: ORANGE_TEXT, lineWidth: 7, lineDash: [8, 22, 42, 20] } });
    text(tx, rows[0], "Dragster", { fontFamily: SLIDE, fontSize: 44, fill: "#000" });
    text(tx, rows[1], "Issued Index", { fontFamily: SLIDE, fontSize: 44, fill: "#7F7F7F" });
    text(tx, rows[2], "Forecast Index", { fontFamily: SLIDE, fontSize: 44, fill: ORANGE_TEXT });
  };
  legendBlock(1818, 1960, 1988, [528, 587, 647]);
  legendBlock(3059, 3201, 3227, [435, 495, 555]);

  // axis titles of driver/mapping panels
  const vtitle = (x: number, y: number, t: string, font: string, size: number) =>
    g.push({ type: "text", x, y, rotation: Math.PI / 2, z: 100, silent: true, style: { text: t, fontFamily: font, fontSize: size, fill: "#000", align: "center", verticalAlign: "middle" } });
  vtitle(1679, 405, "F107 [sfu]", MPL, 36);
  vtitle(2904, 408, "ap [2 nT]", MPL, 36);
  vtitle(1677, 1231, "Estimated Solar", SLIDE, 44);
  vtitle(2908, 1241, "Estimated Geomagnetic", SLIDE, 44);
  text(2292, 1661, "Issued Solar", { fontFamily: SLIDE, fontSize: 44, align: "center" });
  text(3562, 1661, "Issued Geomagnetic", { fontFamily: SLIDE, fontSize: 44, align: "center" });
  text(2441, 1387, "Nowcast Mapping", { fontFamily: SLIDE, fontSize: 45, fill: "#000" });
  text(2441, 1448, "Forecast Mapping", { fontFamily: SLIDE, fontSize: 45, fill: ORANGE_TEXT });
  text(3696, 1387, "Nowcast Mapping", { fontFamily: SLIDE, fontSize: 45, fill: "#000" });
  text(3696, 1448, "Forecast Mapping", { fontFamily: SLIDE, fontSize: 45, fill: ORANGE_TEXT });

  return {
    animation: false,
    backgroundColor: "#fff",
    grid: grids,
    xAxis: xAxes,
    yAxis: yAxes,
    legend: {
      data: ["6-day Forecast", "WAM-IPE Nowcast", "HASDM Nowcast"],
      orient: "vertical", left: 1316, top: 99, selectedMode: false,
      icon: "rect", itemWidth: 46, itemHeight: 5, itemGap: 10,
      padding: [7, 14, 12, 8],
      textStyle: { fontFamily: MPL, fontSize: 23, lineHeight: 30, color: "#000" },
      backgroundColor: "rgba(255,255,255,0.85)", borderColor: "#D0D0D0", borderWidth: 2, borderRadius: 6,
    },
    series,
    graphic: { elements: g },
  };
}

export default function App() {
  const ref = useRef<HTMLDivElement>(null);
  useEffect(() => {
    if (!ref.current) return;
    const chart = echarts.init(ref.current, undefined, { renderer: "svg" });
    chart.setOption(buildOption() as any);
    return () => chart.dispose();
  }, []);
  return (
    <div
      ref={ref}
      style={{ position: "fixed", left: 0, top: 0, width: 4026, height: 1688, background: "#fff", overflow: "hidden" }}
    />
  );
}
